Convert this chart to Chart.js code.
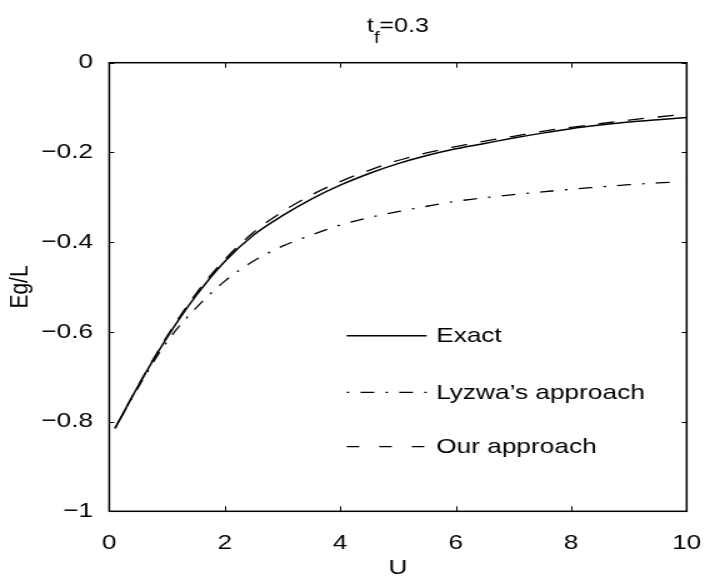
<!DOCTYPE html>
<html><head><meta charset="utf-8">
<script src="https://cdn.jsdelivr.net/npm/chart.js@4"></script>
<style>
html,body{margin:0;padding:0;background:#fff;overflow:hidden;}
#wrap{position:absolute;left:0;top:0;width:572px;height:581px;transform:scaleX(1.25);transform-origin:0 0;}
</style></head><body>
<div id="wrap"><canvas id="c" width="572" height="581"></canvas></div>
<script>
// ---- data ----
const uExact  = [0.1, 0.5, 1, 1.5, 2, 2.5, 3, 3.5, 4, 4.5, 5, 5.5, 6, 6.5, 7, 7.5, 8, 8.5, 9, 9.5, 10];
const uApprox = [0.1, 0.5, 1, 1.5, 2, 2.5, 3, 3.5, 4, 4.5, 5, 5.5, 6, 6.5, 7, 7.5, 8, 8.5, 9, 9.5, 9.9];
const exactVals = [-0.815, -0.721, -0.613, -0.520, -0.443, -0.384, -0.341, -0.304, -0.273, -0.247, -0.225, -0.207, -0.192, -0.180, -0.168, -0.157, -0.147, -0.139, -0.132, -0.127, -0.122];
const lyzwaVals = [-0.815, -0.724, -0.622, -0.547, -0.487, -0.442, -0.409, -0.384, -0.362, -0.345, -0.332, -0.320, -0.309, -0.301, -0.294, -0.288, -0.282, -0.277, -0.272, -0.268, -0.266];
const ourVals   = [-0.815, -0.720, -0.610, -0.515, -0.439, -0.378, -0.332, -0.295, -0.265, -0.240, -0.218, -0.201, -0.187, -0.175, -0.164, -0.153, -0.144, -0.136, -0.128, -0.121, -0.116];
const seriesLabels = ['Exact', 'Lyzwa\u2019s approach', 'Our approach'];
const xTicks = [0, 2, 4, 6, 8, 10];
const xTickLabels = ['0', '2', '4', '6', '8', '10'];
const yTicks = [-1, -0.8, -0.6, -0.4, -0.2, 0];
const yTickLabels = ['\u22121', '\u22120.8', '\u22120.6', '\u22120.4', '\u22120.2', '0'];
const titleMain = 't', titleSub = 'f', titleRest = '=0.3';
const xTitle = 'U', yTitle = 'Eg/L';

const FONT = '"Liberation Sans", Arial, sans-serif';
const pts = (xs, ys) => xs.map((x, i) => ({x: x, y: ys[i]}));

const boxPlugin = {
  id: 'matlabBox',
  afterDatasetsDraw(chart) {
    const {ctx, chartArea: a, scales: {x, y}} = chart;
    ctx.save();
    ctx.strokeStyle = '#000';
    ctx.lineWidth = 1;
    ctx.beginPath();
    xTicks.forEach(v => {
      const px = Math.round(x.getPixelForValue(v)) + 0.5;
      ctx.moveTo(px, a.bottom); ctx.lineTo(px, a.bottom - 5);
      ctx.moveTo(px, a.top); ctx.lineTo(px, a.top + 5);
    });
    yTicks.forEach(v => {
      const py = Math.round(y.getPixelForValue(v)) + 0.5;
      ctx.moveTo(a.left, py); ctx.lineTo(a.left + 4, py);
      ctx.moveTo(a.right, py); ctx.lineTo(a.right - 4, py);
    });
    ctx.stroke();
    ctx.lineWidth = 1.5;
    ctx.strokeRect(a.left, a.top, a.right - a.left, a.bottom - a.top);
    ctx.restore();
  }
};

const legendTitlePlugin = {
  id: 'legendTitle',
  afterDraw(chart, args, opts) {
    const {ctx, chartArea: a} = chart;
    ctx.save();
    // legend
    ctx.fillStyle = '#000';
    ctx.strokeStyle = '#000';
    ctx.font = '21px ' + FONT;
    ctx.textBaseline = 'middle';
    ctx.textAlign = 'left';
    chart.data.datasets.forEach((ds, i) => {
      const yy = a.top + opts.rows[i];
      ctx.lineWidth = ds.borderWidth;
      ctx.setLineDash(opts.dashes[i]);
      ctx.beginPath();
      ctx.moveTo(a.left + opts.lineX0, yy);
      ctx.lineTo(a.left + opts.lineX1, yy);
      ctx.stroke();
      ctx.setLineDash([]);
      ctx.fillText(ds.label, a.left + opts.textX, yy + 1);
    });
    // title with subscript
    const mainFont = '20px ' + FONT, subFont = '16px ' + FONT;
    ctx.textBaseline = 'alphabetic';
    ctx.font = mainFont;
    const w1 = ctx.measureText(titleMain).width;
    const w3 = ctx.measureText(titleRest).width;
    ctx.font = subFont;
    const w2 = ctx.measureText(titleSub).width;
    const total = w1 + w2 + w3;
    let tx = (a.left + a.right) / 2 - total / 2;
    const base = 31.5;
    ctx.font = mainFont; ctx.fillText(titleMain, tx, base); tx += w1;
    ctx.font = subFont; ctx.fillText(titleSub, tx, base + 11.5); tx += w2;
    ctx.font = mainFont; ctx.fillText(titleRest, tx, base);
    ctx.restore();
  }
};

new Chart(document.getElementById('c'), {
  type: 'line',
  data: {
    datasets: [
      {label: seriesLabels[0], data: pts(uExact, exactVals), borderColor: '#000', borderWidth: 1.5, borderDash: []},
      {label: seriesLabels[1], data: pts(uApprox, lyzwaVals), borderColor: '#000', borderWidth: 1.3, borderDash: [2, 9, 11, 9]},
      {label: seriesLabels[2], data: pts(uApprox, ourVals), borderColor: '#000', borderWidth: 1.3, borderDash: [13, 11]}
    ]
  },
  options: {
    responsive: false,
    animation: false,
    events: [],
    devicePixelRatio: 1,
    layout: {padding: {top: 62.7, right: 15.4, left: 0, bottom: 0}},
    elements: {
      point: {radius: 0},
      line: {cubicInterpolationMode: 'monotone', fill: false, borderCapStyle: 'butt'}
    },
    plugins: {
      legend: {display: false},
      tooltip: {enabled: false},
      legendTitle: {
        lineX0: 190, lineX1: 254, textX: 261.5,
        rows: [273, 329.6, 384],
        dashes: [[], [2, 9, 11, 9], [10, 16]]
      }
    },
    scales: {
      x: {
        type: 'linear', min: 0, max: 10,
        grid: {display: false}, border: {display: false},
        afterBuildTicks: s => { s.ticks = xTicks.map(v => ({value: v})); },
        afterFit: s => { s.height = 69.7; },
        ticks: {color: '#000', padding: 11, maxRotation: 0, font: {family: FONT, size: 21},
          callback: (v) => xTickLabels[xTicks.indexOf(v)]},
        title: {display: true, text: xTitle, color: '#000', font: {family: FONT, size: 21}, padding: {top: 0, bottom: 0}}
      },
      y: {
        type: 'linear', min: -1, max: 0,
        grid: {display: false}, border: {display: false},
        afterBuildTicks: s => { s.ticks = yTicks.map(v => ({value: v})); },
        afterFit: s => { s.width = 87.4; },
        ticks: {color: '#000', padding: 5, font: {family: FONT, size: 21},
          callback: (v) => yTickLabels[yTicks.indexOf(v)]},
        title: {display: true, text: yTitle, color: '#000', font: {family: FONT, size: 21}, padding: {top: 4, bottom: 0}}
      }
    }
  },
  plugins: [boxPlugin, legendTitlePlugin]
});
</script>
</body></html>
